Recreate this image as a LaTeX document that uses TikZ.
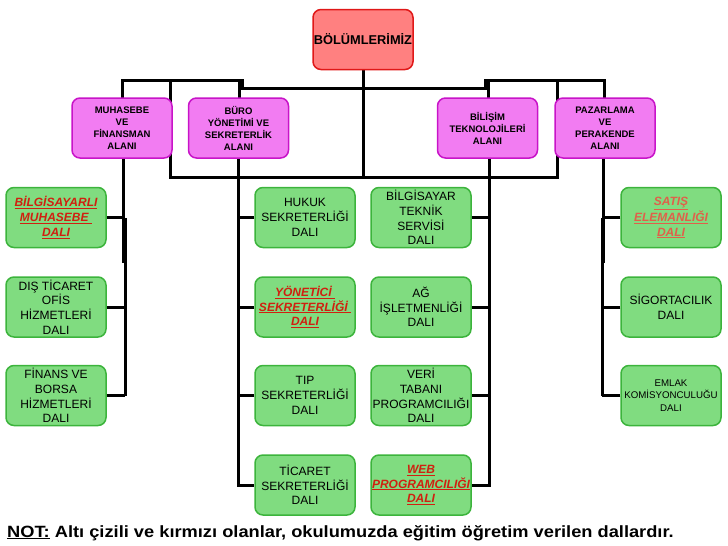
\documentclass[tikz,border=0pt]{standalone}
\usepackage{fontspec}
\usepackage{graphicx}
\setmainfont{Liberation Sans}
\definecolor{topfill}{HTML}{FF8080}
\definecolor{topdraw}{HTML}{E01818}
\definecolor{pinkfill}{HTML}{F27CF2}
\definecolor{pinkdraw}{HTML}{C814C8}
\definecolor{greenfill}{HTML}{80DC80}
\definecolor{greendraw}{HTML}{3CB43C}
\definecolor{redtext}{HTML}{D02010}
\definecolor{lightred}{HTML}{E0604A}
\newcommand{\rt}[1]{\textcolor{redtext}{\bfseries\itshape\underline{#1}}}
\newcommand{\lrt}[1]{\textcolor{lightred}{\bfseries\itshape\underline{#1}}}
\begin{document}
\begin{tikzpicture}[x=1pt,y=-1pt,
  conn/.style={line width=3pt},
  basebox/.style={line width=1.5pt, rounded corners=8pt, minimum width=100pt, minimum height=60pt, inner sep=0pt, align=center},
  topbox/.style={basebox, draw=topdraw, fill=topfill, font=\fontsize{12.8}{15}\selectfont\bfseries},
  areabox/.style={basebox, draw=pinkdraw, fill=pinkfill, font=\fontsize{9.5}{12}\selectfont\bfseries},
  dalbox/.style={basebox, draw=greendraw, fill=greenfill, font=\fontsize{12}{14.7}\selectfont},
  smalldal/.style={dalbox, font=\fontsize{9.7}{12.5}\selectfont},
  notetext/.style={font=\fontsize{16.3}{19}\selectfont\bfseries, inner sep=0pt}
]
\useasboundingbox (0,0) rectangle (728,546);

% junction coordinates
\coordinate (jl) at (242,80);
\coordinate (jr) at (485,80);
\coordinate (jl2) at (242,88);
\coordinate (jr2) at (485,88);
\coordinate (ja) at (170,80);
\coordinate (jb) at (557,80);
\coordinate (ja2) at (170,177);
\coordinate (jb2) at (557,177);
\coordinate (jc) at (363,177);

% connectors of the upper level (drawn first, below the boxes)
\draw[conn] (363,70) -- (jc);
\draw[conn] (ja) -- (ja2) -- (jb2) -- (jb);
\draw[conn] (122,100) -- (122,80) -- (jl) -- (jl2) -- (jr2) -- (jr) -- (604,80) -- (604,100);
\draw[conn] (239,80) -- (239,100);
\draw[conn] (488,80) -- (488,100);

% top node
\node[topbox] (top) at (363,39.5) {BÖLÜMLERİMİZ};

% area nodes
\node[areabox] (muh) at (122,128) {MUHASEBE\\VE\\FİNANSMAN\\ALANI};
\node[areabox] (buro) at (238.5,128) {BÜRO\\YÖNETİMİ VE\\SEKRETERLİK\\ALANI};
\node[areabox] (bil) at (487.5,128) {BİLİŞİM\\TEKNOLOJİLERİ\\ALANI};
\node[areabox] (paz) at (605,128) {PAZARLAMA\\VE\\PERAKENDE\\ALANI};

% green nodes
\node[dalbox] (bm) at (56,217.5) {\rt{BİLGİSAYARLI}\\\rt{MUHASEBE\ }\\\rt{DALI}};
\node[dalbox] (dis) at (56,307) {DIŞ TİCARET\\OFİS\\HİZMETLERİ\\DALI};
\node[dalbox] (fin) at (56,395.5) {FİNANS VE\\BORSA\\HİZMETLERİ\\DALI};

\node[dalbox] (huk) at (305,217.5) {HUKUK\\SEKRETERLİĞİ\\DALI};
\node[dalbox] (yon) at (305,307) {\rt{YÖNETİCİ\ }\\\rt{SEKRETERLİĞİ\ }\\\rt{DALI}};
\node[dalbox] (tip) at (305,395.5) {TIP\\SEKRETERLİĞİ\\DALI};
\node[dalbox] (tic) at (305,485) {TİCARET\\SEKRETERLİĞİ\\DALI};

\node[dalbox] (bts) at (421,217.5) {BİLGİSAYAR\\TEKNİK\\SERVİSİ\\DALI};
\node[dalbox] (ag) at (421,307) {AĞ\\İŞLETMENLİĞİ\\DALI};
\node[dalbox] (veri) at (421,395.5) {VERİ\\TABANI\\PROGRAMCILIĞI\\DALI};
\node[dalbox] (web) at (421,485) {\rt{WEB}\\\rt{PROGRAMCILIĞI}\\\rt{DALI}};

\node[dalbox] (sat) at (671,217.5) {\lrt{SATIŞ}\\\lrt{ELEMANLIĞI}\\\lrt{DALI}};
\node[dalbox] (sig) at (671,307) {SİGORTACILIK\\DALI};
\node[smalldal] (eml) at (671,395.5) {EMLAK\\KOMİSYONCULUĞU\\DALI};

% lower connectors: Muhasebe
\coordinate (mj) at (123,263);
\coordinate (mb1) at (125,218);
\coordinate (mb3) at (125,395.5);
\draw[conn] (muh.south -| mj) -- (mj);
\draw[conn] (mb1) -- (mb3);
\draw[conn] (bm.east) -- (bm.east -| mb1);
\draw[conn] (dis.east) -- (dis.east -| mb1);
\draw[conn] (fin.east) -- (fin.east -| mb1);

% Buro
\coordinate (bx) at (238,0);
\draw[conn] (buro.south -| bx) |- (tic.west);
\draw[conn] (huk.west) -- (huk.west -| bx);
\draw[conn] (yon.west) -- (yon.west -| bx);
\draw[conn] (tip.west) -- (tip.west -| bx);

% Bilisim
\coordinate (ix) at (489.5,0);
\draw[conn] (bil.south -| ix) |- (web.east);
\draw[conn] (bts.east) -- (bts.east -| ix);
\draw[conn] (ag.east) -- (ag.east -| ix);
\draw[conn] (veri.east) -- (veri.east -| ix);

% Pazarlama
\coordinate (pj) at (603.5,263);
\coordinate (pb1) at (602,218);
\coordinate (pb3) at (602,395.5);
\draw[conn] (paz.south -| pj) -- (pj);
\draw[conn] (pb1) -- (pb3);
\draw[conn] (sat.west) -- (sat.west -| pb1);
\draw[conn] (sig.west) -- (sig.west -| pb1);
\draw[conn] (eml.west) -- (eml.west -| pb1);

% note
\node[notetext, anchor=base west] (note) at (7,537) {\scalebox{1.12}[1]{\underline{NOT:} Altı çizili ve kırmızı olanlar, okulumuzda eğitim öğretim verilen dallardır.}};
\end{tikzpicture}
\end{document}
